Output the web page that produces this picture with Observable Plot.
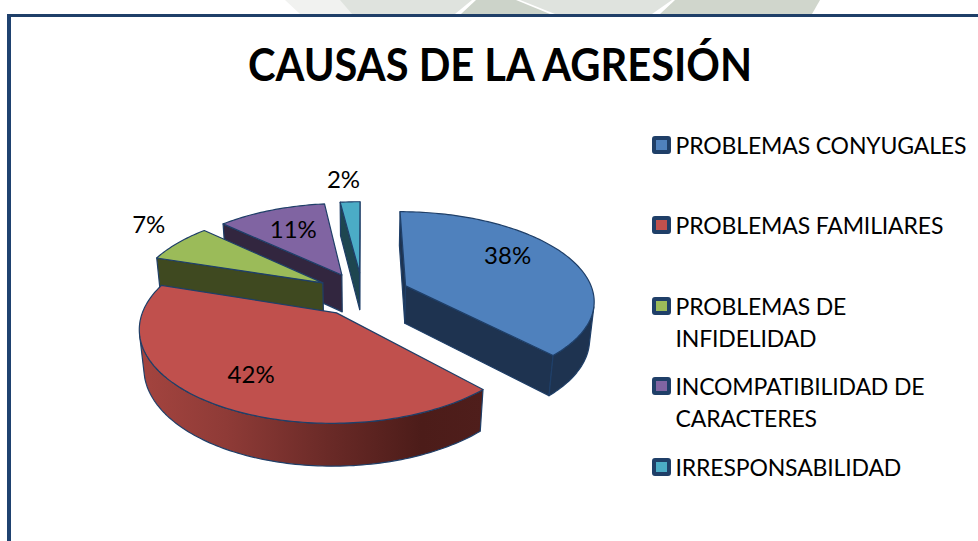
<!DOCTYPE html>
<html><head><meta charset="utf-8">
<script src="https://cdn.jsdelivr.net/npm/d3@7"></script>
<script src="https://cdn.jsdelivr.net/npm/@observablehq/plot@0.6"></script>
<style>
html,body{margin:0;padding:0;background:#fff;width:978px;height:541px;overflow:hidden}
#root{position:relative;width:978px;height:541px;font-family:"Lato",sans-serif;color:#000}
#frame{position:absolute;left:7px;top:14px;right:0;bottom:0;border-left:4px solid #1f4270;border-top:3px solid #1f3f68}
#title{position:absolute;left:0;width:1000px;top:32px;text-align:center;font-weight:700;font-size:46px;line-height:64px;white-space:nowrap;transform:scaleX(.905)}
.lg{position:absolute;left:675.5px;font-size:23px;line-height:32px;white-space:nowrap;letter-spacing:-.15px}
.sw{position:absolute;left:652px;width:11px;height:10px;border:4px solid #1f3f68;border-radius:3px}
#chart{position:absolute;left:0;top:0}
.wm{position:absolute;left:0;top:0;width:978px;height:14px}
</style></head><body>
<div id="root">
<div class="wm" style="background:#f1f2f0;clip-path:polygon(285px 0,345px 0,352px 14px,300px 14px)"></div>
<div class="wm" style="background:#dfe3de;clip-path:polygon(340px 0,672px 0,652px 14px,352px 14px)"></div>
<div class="wm" style="background:#fff;clip-path:polygon(472px 0,520px 0,555px 14px,455px 14px)"></div>
<div class="wm" style="background:#ccd3c9;clip-path:polygon(476px 0,516px 0,550px 14px,461px 14px)"></div>
<div class="wm" style="background:#d0d6cc;clip-path:polygon(675px 0,820px 0,812px 14px,660px 14px)"></div>
<div id="frame"></div><div id="chart"></div><div id="title"></div></div>
<script>
const chartTitle = "CAUSAS DE LA AGRESIÓN";
const categories = ["PROBLEMAS CONYUGALES","PROBLEMAS FAMILIARES","PROBLEMAS DE INFIDELIDAD","INCOMPATIBILIDAD DE CARACTERES","IRRESPONSABILIDAD"];
const values = [38,42,7,11,2];
const topColors = ["#4f81bd","#c0504d","#9bbb59","#8064a2","#4bacc6"];
const rimColors = ["#1e3350","url(#redRim)","#3f4920","#32263f","#1e4650"];
const cutColors = ["#1e3350","#4e1d1a","#3f4920","#32263f","#1e4650"];
const labelRadius = [0.7,0.72,1.31,0.66,1.37];
const labelTurn = [-10.5,0,4.5,0,-1];
const legendLines = [["PROBLEMAS CONYUGALES"],["PROBLEMAS FAMILIARES"],["PROBLEMAS DE","INFIDELIDAD"],["INCOMPATIBILIDAD DE","CARACTERES"],["IRRESPONSABILIDAD"]];
const legendTop = [129,209,290,370,451];

const explode = 0.25, persp = 0.15, thick = 0.44, thickPersp = 0.02, edge = "#1f3f68";

// pie angles (clockwise from the top), then a simple perspective projection
const total = d3.sum(values);
let acc = 0;
const slices = values.map((v,i)=>{
  const a0 = acc/total*2*Math.PI; acc += v;
  const a1 = acc/total*2*Math.PI, m = (a0+a1)/2;
  return {i,v,a0,a1,m,ex:explode*Math.sin(m),ez:explode*Math.cos(m)};
});
const proj = (X,Z,down)=>{
  const w = 1+persp*Z+(down?thickPersp:0);
  return {x:X/w, y:Z/w-(down?thick/w:0)};
};
const onRim = (s,a,down)=>proj(s.ex+Math.sin(a),s.ez+Math.cos(a),down);
const apex = (s,down)=>proj(s.ex,s.ez,down);
const signedArea = ps=>d3.sum(ps,(p,i)=>{const q=ps[(i+1)%ps.length];return p.x*q.y-q.x*p.y;})/2;

const faces=[];
const closed=ps=>[...ps,ps[0]];
const paint=[4,3,2,0,1];
for(const idx of paint){
  const s=slices[idx];
  const n=Math.max(4,Math.ceil((s.a1-s.a0)/0.02));
  const as=d3.range(n+1).map(k=>s.a0+(s.a1-s.a0)*k/n);
  // radial cut faces
  const edges=[[apex(s,false),onRim(s,s.a0,false),onRim(s,s.a0,true),apex(s,true)],
               [onRim(s,s.a1,false),apex(s,false),apex(s,true),onRim(s,s.a1,true)]];
  for(const q of edges) if(signedArea(q)>0) faces.push({pts:closed(q),fill:cutColors[idx]});
  // outer rim: the visible stretch of the arc
  const top=[],bot=[];
  for(let k=0;k<n;k++){
    const q=[onRim(s,as[k],false),onRim(s,as[k+1],false),onRim(s,as[k+1],true),onRim(s,as[k],true)];
    if(signedArea(q)>0){
      if(!top.length){top.push(q[0]);bot.push(q[3]);}
      top.push(q[1]);bot.push(q[2]);
    }
  }
  if(top.length) faces.push({pts:closed([...top,...bot.reverse()]),fill:rimColors[idx]});
  // top surface
  faces.push({pts:closed([apex(s,false),...as.map(a=>onRim(s,a,false))]),fill:topColors[idx]});
}

const labels=slices.map(s=>{
  const r=labelRadius[s.i], a=s.m+labelTurn[s.i]*Math.PI/180;
  const p=proj(s.ex+r*Math.sin(a),s.ez+r*Math.cos(a),false);
  return {x:p.x,y:p.y,t:s.v+"%"};
});

const redRimDefs=()=>{
  const defs=d3.create("svg:defs");
  const g=defs.append("linearGradient").attr("id","redRim").attr("x1",0).attr("x2",1).attr("y1",0).attr("y2",0);
  [[0,"#a4443f"],[0.25,"#8f3b37"],[0.55,"#6a2a27"],[0.82,"#4c1c19"],[1,"#4f1e1b"]]
    .forEach(([o,c])=>g.append("stop").attr("offset",o).attr("stop-color",c));
  return defs.node();
};

const plot=Plot.plot({
  width:978,height:541,margin:0,
  x:{domain:[-1,1],range:[174,550],axis:null},
  y:{domain:[-1,1],range:[380.8,205.8],axis:null},
  style:{background:"transparent"},
  marks:[
    redRimDefs,
    ...faces.map(f=>Plot.line(f.pts,{x:"x",y:"y",fill:f.fill,stroke:edge,strokeWidth:1.2,curve:"linear"})),
    Plot.text(labels,{x:"x",y:"y",text:"t",fontSize:24,fontFamily:"Lato",fill:"#000"})
  ]
});
document.getElementById("chart").append(plot);
document.getElementById("title").textContent=chartTitle;

const root=document.getElementById("root");
legendLines.forEach((lines,i)=>{
  const sw=document.createElement("div");sw.className="sw";sw.style.top=(legendTop[i]+7)+"px";sw.style.background=topColors[i];root.append(sw);
  lines.forEach((l,j)=>{
    const d=document.createElement("div");d.className="lg";d.textContent=l;d.style.top=(legendTop[i]+j*32)+"px";root.append(d);
  });
});
</script>
</body></html>
